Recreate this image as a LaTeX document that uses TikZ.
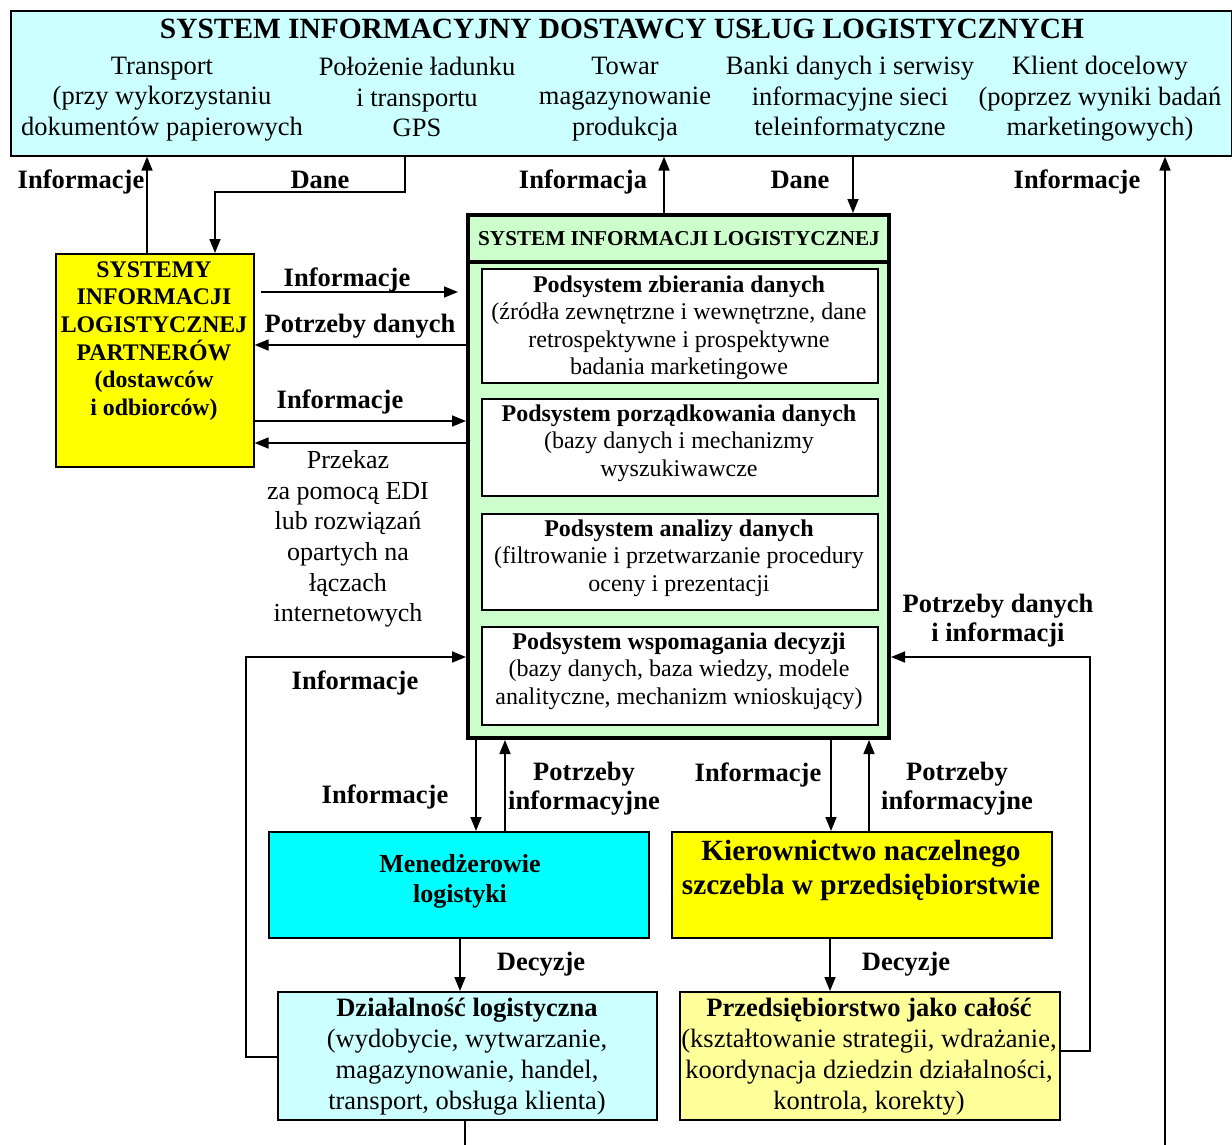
\documentclass[tikz,border=0pt]{standalone}
\usepackage{fontspec}
\setmainfont{Liberation Serif}
\usetikzlibrary{arrows.meta}
\definecolor{lcyan}{HTML}{CCFFFF}
\definecolor{fcyan}{HTML}{00FFFF}
\definecolor{fyellow}{HTML}{FFFF00}
\definecolor{lyellow}{HTML}{FFFF99}
\definecolor{lgreen}{HTML}{CCFFCC}
\newcommand\myfs[2]{\fontsize{#1}{#2}\selectfont}
\begin{document}
\begin{tikzpicture}[x=1pt,y=-1pt,
  box/.style={draw=black, line width=1.6pt, anchor=north west, inner sep=0pt},
  arr/.style={line width=1.6pt, -{Triangle[length=14pt,width=11pt]}},
  ln/.style={line width=1.6pt},
  lbl/.style={font=\myfs{26.5}{29}\bfseries, inner sep=0pt, align=center},
  txt/.style={font=\myfs{26.5}{30.5}, inner sep=0pt, align=center},
  sub/.style={font=\myfs{24}{27.5}, inner sep=0pt, align=center},
  bt/.style={font=\myfs{26.5}{31}, inner sep=0pt, align=center}
]
\useasboundingbox (0,0) rectangle (1232,1145);
\fill[white] (0,0) rectangle (1232,1145);

% boxes
\node[box, fill=lcyan, minimum width=1221pt, minimum height=145pt] (top) at (10,10) {};
\node[box, fill=fyellow, minimum width=198pt, minimum height=213pt] (partner) at (55,253) {};
\node[box, fill=lgreen, line width=4pt, minimum width=421pt, minimum height=523pt] (sil) at (466,213) {};
\node[box, fill=white, minimum width=396pt, minimum height=114pt] (in1) at (481,268) {};
\node[box, fill=white, minimum width=396pt, minimum height=97pt] (in2) at (481,398) {};
\node[box, fill=white, minimum width=396pt, minimum height=96pt] (in3) at (481,513) {};
\node[box, fill=white, minimum width=396pt, minimum height=98pt] (in4) at (481,626) {};
\node[box, fill=fcyan, minimum width=380pt, minimum height=106pt] (mgr) at (268,831) {};
\node[box, fill=fyellow, minimum width=380pt, minimum height=106pt] (kier) at (671,831) {};
\node[box, fill=lcyan, minimum width=379pt, minimum height=128pt] (dzial) at (277,991) {};
\node[box, fill=lyellow, minimum width=380pt, minimum height=128pt] (przed) at (679,991) {};

% separator in SIL
\coordinate (ysep) at (0,262);
\draw[line width=3.5pt] (sil.west |- ysep) -- (sil.east |- ysep);

% texts in top box
\node[font=\myfs{29.4}{32}\bfseries, inner sep=0pt, anchor=base] (title) at (622,39) {SYSTEM INFORMACYJNY DOSTAWCY USŁUG LOGISTYCZNYCH};
\node[txt] (t1) at (162,99) {Transport\\(przy wykorzystaniu\\dokumentów papierowych};
\node[txt] (t2) at (417,97) {Położenie ładunku\\i transportu\\GPS};
\node[txt] (t3) at (625,99) {Towar\\magazynowanie\\produkcja};
\node[txt] (t4) at (850,99) {Banki danych i serwisy\\informacyjne sieci\\teleinformatyczne};
\node[txt] (t5) at (1100,99) {Klient docelowy\\(poprzez wyniki badań\\marketingowych)};

% partner text
\node[font=\myfs{23.8}{27.6}\bfseries, inner sep=0pt, align=center] (ptext) at (154,341) {SYSTEMY\\INFORMACJI\\LOGISTYCZNEJ\\PARTNERÓW\\(dostawców\\i odbiorców)};

% SIL texts
\node[font=\myfs{21.2}{24}\bfseries, inner sep=0pt, anchor=base] (silh) at (679,245) {SYSTEM INFORMACJI LOGISTYCZNEJ};
\node[sub] (s1) at (679,328) {\textbf{Podsystem zbierania danych}\\(źródła zewnętrzne i wewnętrzne, dane\\retrospektywne i prospektywne\\badania marketingowe};
\node[sub] (s2) at (679,443) {\textbf{Podsystem porządkowania danych}\\(bazy danych i mechanizmy\\wyszukiwawcze};
\node[sub] (s3) at (679,558) {\textbf{Podsystem analizy danych}\\(filtrowanie i przetwarzanie procedury\\oceny i prezentacji};
\node[sub] (s4) at (679,671) {\textbf{Podsystem wspomagania decyzji}\\(bazy danych, baza wiedzy, modele\\analityczne, mechanizm wnioskujący)};

% bottom box texts
\node[font=\myfs{26}{30}\bfseries, inner sep=0pt, align=center] (mgrt) at (460,881) {Menedżerowie\\logistyki};
\node[font=\myfs{29.3}{34}\bfseries, inner sep=0pt, align=center] (kiert) at (861,870) {Kierownictwo naczelnego\\szczebla w przedsiębiorstwie};
\node[bt] (dzt) at (467,1057) {\textbf{Działalność logistyczna}\\(wydobycie, wytwarzanie,\\magazynowanie, handel,\\transport, obsługa klienta)};
\node[bt] (prt) at (869,1057) {\textbf{Przedsiębiorstwo jako całość}\\(kształtowanie strategii, wdrażanie,\\koordynacja dziedzin działalności,\\kontrola, korekty)};

% coordinates
\coordinate (cA) at (147,0);
\coordinate (cB) at (405,0);
\coordinate (cDane) at (215,192);
\coordinate (cC) at (664,0);
\coordinate (cD) at (853,0);
\coordinate (cEbot) at (1165,1145);
\coordinate (y292) at (0,292);
\coordinate (y345) at (0,345);
\coordinate (y421) at (0,421);
\coordinate (y443) at (0,443);
\coordinate (cL) at (246,657);
\coordinate (yL) at (0,1057);
\coordinate (cR) at (1090,657);
\coordinate (yR) at (0,1051);
\coordinate (x476) at (476,0);
\coordinate (x505) at (505,0);
\coordinate (x831) at (831,0);
\coordinate (x869) at (869,0);
\coordinate (x460) at (460,0);
\coordinate (x830) at (830,0);
\coordinate (cFbot) at (465,1145);

% connectors
\draw[arr] (partner.north -| cA) -- (top.south -| cA);
\draw[arr] (top.south -| cB) |- (cDane) -- (partner.north -| cDane);
\draw[arr] (sil.north -| cC) -- (top.south -| cC);
\draw[arr] (top.south -| cD) -- (sil.north -| cD);
\draw[arr] (cEbot) -- (top.south -| cEbot);
\draw[arr] ([xshift=6pt]partner.east |- y292) -- ([xshift=-8pt]sil.west |- y292);
\draw[arr] (sil.west |- y345) -- (partner.east |- y345);
\draw[arr] (partner.east |- y421) -- (sil.west |- y421);
\draw[arr] (sil.west |- y443) -- (partner.east |- y443);
\draw[arr] (dzial.west |- yL) -| (cL) -- (sil.west |- cL);
\draw[arr] (przed.east |- yR) -| (cR) -- (sil.east |- cR);
\draw[arr] (sil.south -| x476) -- (mgr.north -| x476);
\draw[arr] (mgr.north -| x505) -- (sil.south -| x505);
\draw[arr] (sil.south -| x831) -- (kier.north -| x831);
\draw[arr] (kier.north -| x869) -- (sil.south -| x869);
\draw[arr] (mgr.south -| x460) -- (dzial.north -| x460);
\draw[arr] (kier.south -| x830) -- (przed.north -| x830);
\draw[ln] (dzial.south -| cFbot) -- (cFbot);

% labels
\node[lbl, anchor=base] (l1) at (81,189) {Informacje};
\node[lbl, anchor=base] (l2) at (320,189) {Dane};
\node[lbl, anchor=base] (l3) at (583,189) {Informacja};
\node[lbl, anchor=base] (l4) at (800,189) {Dane};
\node[lbl, anchor=base] (l5) at (1077,189) {Informacje};
\node[lbl, anchor=base] (l6) at (347,286) {Informacje};
\node[lbl, anchor=base] (l7) at (360,332) {Potrzeby danych};
\node[lbl, anchor=base] (l8) at (340,408) {Informacje};
\node[font=\myfs{26}{30.7}, inner sep=0pt, align=center] (l9) at (348,539) {Przekaz\\za pomocą EDI\\lub rozwiązań\\opartych na\\łączach\\internetowych};
\node[lbl, anchor=base] (l10) at (355,689) {Informacje};
\node[lbl] (l11) at (998,621) {Potrzeby danych\\i informacji};
\node[lbl, anchor=base] (l12) at (385,803) {Informacje};
\node[lbl] (l13) at (584,789) {Potrzeby\\informacyjne};
\node[lbl, anchor=base] (l14) at (758,781) {Informacje};
\node[lbl] (l15) at (957,789) {Potrzeby\\informacyjne};
\node[lbl, anchor=base] (l16) at (541,970) {Decyzje};
\node[lbl, anchor=base] (l17) at (906,970) {Decyzje};
\end{tikzpicture}
\end{document}
